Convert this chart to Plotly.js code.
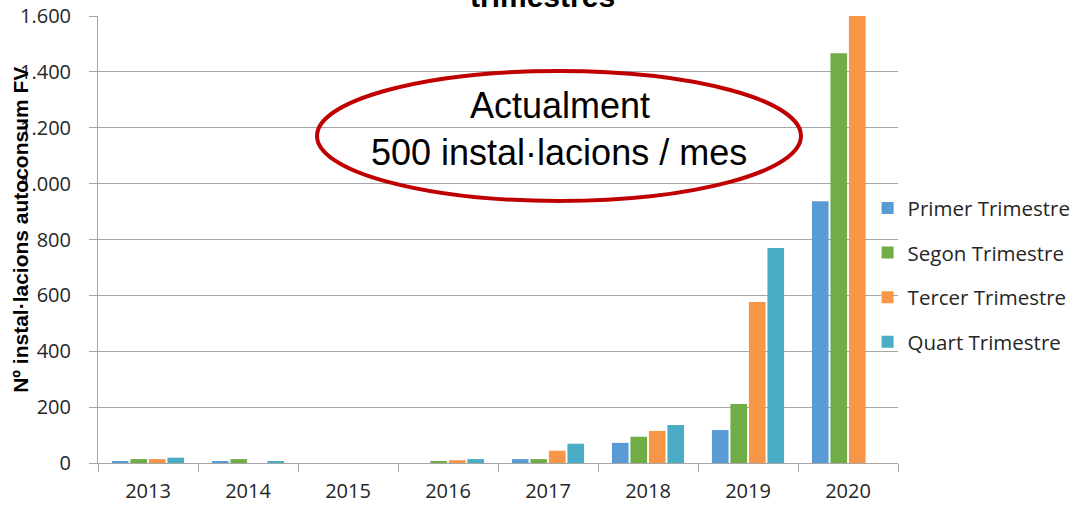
<!DOCTYPE html>
<html>
<head>
<meta charset="utf-8">
<script src="https://cdn.plot.ly/plotly-3.0.1.min.js"></script>
<style>
  html, body { margin: 0; padding: 0; background: #fff; }
  #chart { width: 1075px; height: 509px; }
</style>
</head>
<body>
<div id="chart"></div>
<script>
// Installacions d'autoconsum FV per trimestre
const years = ['2013', '2014', '2015', '2016', '2017', '2018', '2019', '2020'];
const primer = [4, 4, 0, 0, 14, 72, 118, 937];
const segon = [14, 14, 0, 5, 14, 94, 211, 1467];
const tercer = [14, 0, 0, 10, 44, 115, 576, 1600];
const quart = [19, 5, 0, 14, 69, 136, 770, null];

const seriesNames = ['Primer Trimestre', 'Segon Trimestre', 'Tercer Trimestre', 'Quart Trimestre'];
const seriesColors = ['#5B9BD5', '#70AD47', '#F79646', '#4BACC6'];
const seriesValues = [primer, segon, tercer, quart];

const FONT = 'Open Sans, sans-serif';
const ARIAL = 'Liberation Sans, Arial, sans-serif';

const traces = seriesValues.map((vals, i) => ({
  type: 'bar',
  name: seriesNames[i],
  x: years,
  y: vals,
  legendgroup: 'g' + i,
  marker: { color: seriesColors[i], line: { width: 0 } },
  hovertemplate: '%{x}<br>' + seriesNames[i] + ': %{y}<extra></extra>',
}));

const layout = {
  width: 1075,
  height: 509,
  paper_bgcolor: '#ffffff',
  plot_bgcolor: '#ffffff',
  font: { family: FONT, color: '#262626', size: 20 },
  separators: ',.',
  margin: { t: 16, r: 177, b: 46, l: 98, autoexpand: false },
  barmode: 'group',
  bargap: 0.26,
  bargroupgap: 0.1,
  showlegend: true,
  legend: {
    x: 0.962, xanchor: 'left',
    y: 0.615, yanchor: 'top',
    font: { family: FONT, size: 20.5, color: '#262626' },
    tracegroupgap: 15,
    bgcolor: 'rgba(0,0,0,0)',
  },
  xaxis: {
    type: 'category',
    showgrid: false,
    showline: true,
    linecolor: '#A6A6A6',
    linewidth: 1,
    ticks: 'outside',
    tickson: 'boundaries',
    ticklen: 8,
    tickcolor: '#A6A6A6',
    ticklabelstandoff: 10,
    tickfont: { family: FONT, size: 20, color: '#262626' },
  },
  yaxis: {
    range: [0, 1600],
    dtick: 200,
    tickformat: ',d',
    showgrid: true,
    gridcolor: '#A6A6A6',
    gridwidth: 1,
    zeroline: false,
    showline: true,
    linecolor: '#A6A6A6',
    linewidth: 1,
    ticks: 'outside',
    ticklen: 8,
    tickcolor: '#A6A6A6',
    ticklabelstandoff: 14,
    tickfont: { family: FONT, size: 20, color: '#262626' },
  },
  shapes: [{
    type: 'circle',
    xref: 'paper', yref: 'paper',
    x0: (317 - 98) / 800, x1: (801 - 98) / 800,
    y0: (463.3 - 201) / 447.3, y1: (463.3 - 71) / 447.3,
    line: { color: '#C00000', width: 4 },
    fillcolor: 'rgba(0,0,0,0)',
  }],
  annotations: [
    {
      text: 'Actualment',
      xref: 'paper', yref: 'paper',
      x: (560 - 98) / 800, y: (463.3 - 83) / 447.3,
      showarrow: false,
      font: { family: ARIAL, size: 36, color: '#000000' },
    },
    {
      text: '500 instal·lacions / mes',
      xref: 'paper', yref: 'paper',
      x: (559 - 98) / 800, y: (463.3 - 130) / 447.3,
      showarrow: false,
      font: { family: ARIAL, size: 36, color: '#000000' },
    },
    {
      text: '<b>trimestres</b>',
      xref: 'paper', yref: 'paper',
      x: (542 - 98) / 800, y: 1, yshift: 1,
      xanchor: 'center', yanchor: 'bottom',
      showarrow: false,
      font: { family: ARIAL, size: 30, color: '#000000' },
    },
    {
      text: '<b>Nº instal·lacions autoconsum FV</b>',
      xref: 'paper', yref: 'paper',
      x: (21 - 98) / 800, y: (463.3 - 230) / 447.3,
      xanchor: 'center', yanchor: 'middle',
      textangle: -90,
      showarrow: false,
      font: { family: ARIAL, size: 21, color: '#000000' },
    },
  ],
};

Plotly.newPlot('chart', traces, layout, { displayModeBar: false, responsive: false });
</script>
</body>
</html>
